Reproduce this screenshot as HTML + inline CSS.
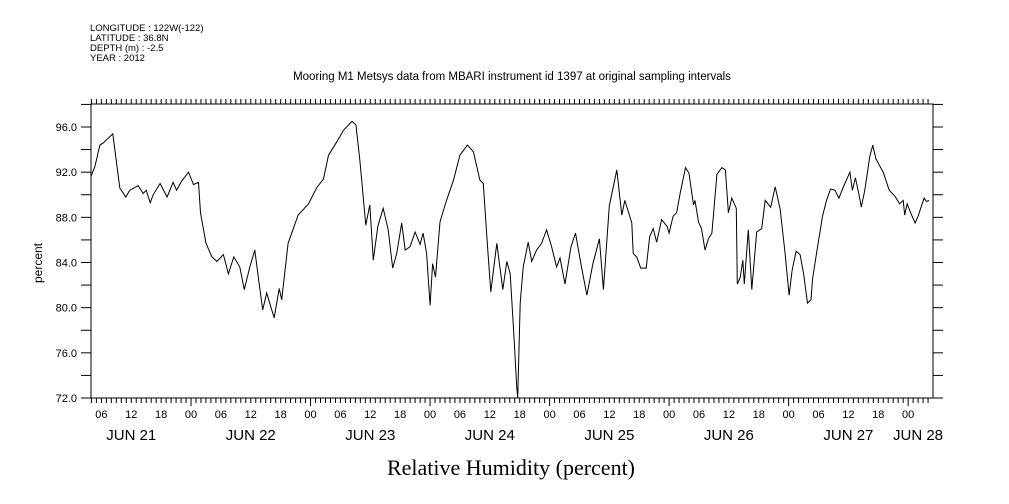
<!DOCTYPE html>
<html><head><meta charset="utf-8"><style>
body{margin:0;background:#fff;}
svg{display:block;font-family:"Liberation Sans",sans-serif;}
</style></head><body>
<svg id="c" width="1009" height="504" xmlns="http://www.w3.org/2000/svg">
<g font-size="9.5" fill="#000">
<text x="90" y="31">LONGITUDE : 122W(-122)</text>
<text x="90" y="41">LATITUDE : 36.8N</text>
<text x="90" y="51">DEPTH (m) : -2.5</text>
<text x="90" y="61">YEAR : 2012</text>
</g>
<text x="512" y="80" font-size="11.5" text-anchor="middle">Mooring M1 Metsys data from MBARI instrument id 1397 at original sampling intervals</text>
<text x="511" y="475" font-size="22" text-anchor="middle" font-family="Liberation Serif, serif">Relative Humidity (percent)</text>
<text transform="translate(42,263) rotate(-90)" font-size="12" text-anchor="middle">percent</text>
<g id="axes"></g>
<path id="line" fill="none" stroke="#000" stroke-width="1"/>
</svg>
<script>
const hours=[3.9,4.7,5.7,6.4,8.3,9.7,10.9,11.7,13.4,14.4,15.0,15.8,16.4,17.8,19.2,20.4,21.1,22.1,23.5,24.5,25.5,25.9,27.0,28.2,29.2,30.5,31.5,32.6,33.8,34.7,35.8,36.8,37.5,38.4,39.2,40.0,40.7,41.7,42.2,43.5,45.5,47.6,49.2,50.6,51.6,53.3,54.6,56.3,57.1,57.9,59.1,59.9,60.6,61.5,62.6,63.6,64.5,65.3,66.3,67.0,68.0,69.0,70.0,70.6,71.3,72.0,72.5,73.1,74.0,75.3,76.7,78.0,79.5,80.7,82.0,82.7,83.5,84.2,85.4,86.6,87.4,88.1,88.9,89.4,89.6,90.1,90.7,91.7,92.4,93.4,94.4,95.4,96.4,97.4,98.1,99.1,100.3,101.2,102.4,103.5,104.7,106.0,106.8,108.0,109.5,110.5,111.1,112.5,112.8,113.5,114.3,115.4,116.1,116.8,117.5,118.5,119.6,120.0,120.8,121.5,122.2,123.3,124.0,124.9,125.2,125.9,126.5,127.2,127.9,128.6,129.6,130.6,131.3,131.9,132.6,133.5,133.7,134.3,134.8,135.1,135.9,136.6,137.6,138.6,139.3,140.4,141.3,142.3,143.3,144.1,144.7,145.5,146.3,147.0,147.8,148.5,148.8,149.6,150.8,151.6,152.4,153.3,154.1,154.9,156.3,156.8,157.4,158.1,158.6,159.3,160.3,160.9,161.5,163.0,164.2,165.3,166.3,167.0,167.3,167.8,168.7,169.4,170.0,171.2,171.7,172.2];
const values=[91.6,92.5,94.4,94.6,95.4,90.6,89.8,90.4,90.8,90.1,90.4,89.3,90.0,91.0,89.8,91.1,90.4,91.2,92.0,90.9,91.1,88.4,85.7,84.5,84.1,84.7,83.0,84.5,83.6,81.6,83.6,85.1,82.7,79.8,81.3,80.1,79.1,81.7,80.7,85.7,88.2,89.2,90.6,91.4,93.5,94.7,95.7,96.5,96.2,93.1,87.3,89.1,84.2,87.2,88.8,86.9,83.5,84.8,87.5,85.1,85.4,86.7,85.6,86.6,84.8,80.2,83.9,82.7,87.6,89.5,91.3,93.5,94.4,93.8,91.3,91.0,85.7,81.4,85.7,81.6,84.1,83.0,77.1,73.0,72.0,80.4,83.6,85.8,84.1,85.1,85.7,86.9,85.4,83.6,84.4,82.1,85.4,86.6,83.6,81.1,83.9,86.1,81.6,89.0,92.2,88.2,89.5,87.5,84.8,84.5,83.5,83.5,86.3,87.0,85.8,87.8,87.2,86.6,88.1,88.4,90.1,92.4,91.9,89.1,89.5,87.6,87.0,85.1,86.1,86.6,91.8,92.4,92.2,88.4,89.7,88.8,82.1,82.7,84.2,82.1,86.9,81.6,86.7,87.0,89.5,88.9,90.7,88.7,84.8,81.1,83.3,85.0,84.7,83.0,80.4,80.7,82.5,84.8,88.1,89.5,90.5,90.4,89.7,90.6,92.0,90.4,91.5,90.1,88.9,90.4,93.4,94.4,93.2,92.0,90.4,89.9,89.2,89.5,88.2,89.2,88.2,87.5,88.1,89.7,89.4,89.5];
const yTicks=[72,76,80,84,88,92,96];
const hourLabels=["06","12","18","00"];
const dayLabels=["JUN 21","JUN 22","JUN 23","JUN 24","JUN 25","JUN 26","JUN 27","JUN 28"];
const X0=91,X1=933,Y0=104,Y1=398;
function xs(h){return 71.5+h*4.98;}
function ys(v){return 398-(v-72)*(271/24);}
const NS="http://www.w3.org/2000/svg";
const ax=document.getElementById('axes');
function ln(x1,y1,x2,y2,name){const e=document.createElementNS(NS,'line');e.setAttribute('x1',x1);e.setAttribute('y1',y1);e.setAttribute('x2',x2);e.setAttribute('y2',y2);e.setAttribute('stroke','#000');e.setAttribute('stroke-width','1');


ax.appendChild(e);return e;}
function tx(x,y,s,size,anchor,name){const e=document.createElementNS(NS,'text');e.setAttribute('x',x);e.setAttribute('y',y);e.setAttribute('font-size',size);e.setAttribute('text-anchor',anchor);e.textContent=s;


ax.appendChild(e);}
const fr=document.createElementNS(NS,'rect');
fr.setAttribute('x',X0);fr.setAttribute('y',Y0);fr.setAttribute('width',X1-X0);fr.setAttribute('height',Y1-Y0);fr.setAttribute('fill','none');fr.setAttribute('stroke','#000');


ax.appendChild(fr);
for(let v=72;v<=98;v+=2){const y=ys(v);if(y<Y0)continue;ln(X0-10,y,X0,y,'y-tick');ln(X1,y,X1+10,y,'y-tick-right');}
yTicks.forEach(v=>tx(77,ys(v)+4,v.toFixed(1),11,'end','y-tick-label'));
for(let h=4;h<=173;h++){const x=xs(h);if(x<X0||x>X1)continue;const major=h%24===0;ln(x,Y1,x,Y1+(major?8:5),'x-tick');ln(x,Y0,x,Y0-5,'x-tick-top');
if(h%6===0)tx(x,418,hourLabels[(h/6-1)%4],11,'middle','x-tick-label');}
dayLabels.forEach((d,i)=>{let x=xs(12+24*i);if(i===7)x=918;tx(x,440,d,15,'middle','day-label');});
let dstr='';hours.forEach((h,i)=>{dstr+=(i?'L':'M')+xs(h).toFixed(1)+','+ys(values[i]).toFixed(1);});
document.getElementById('line').setAttribute('d',dstr);
</script>
</body></html>
